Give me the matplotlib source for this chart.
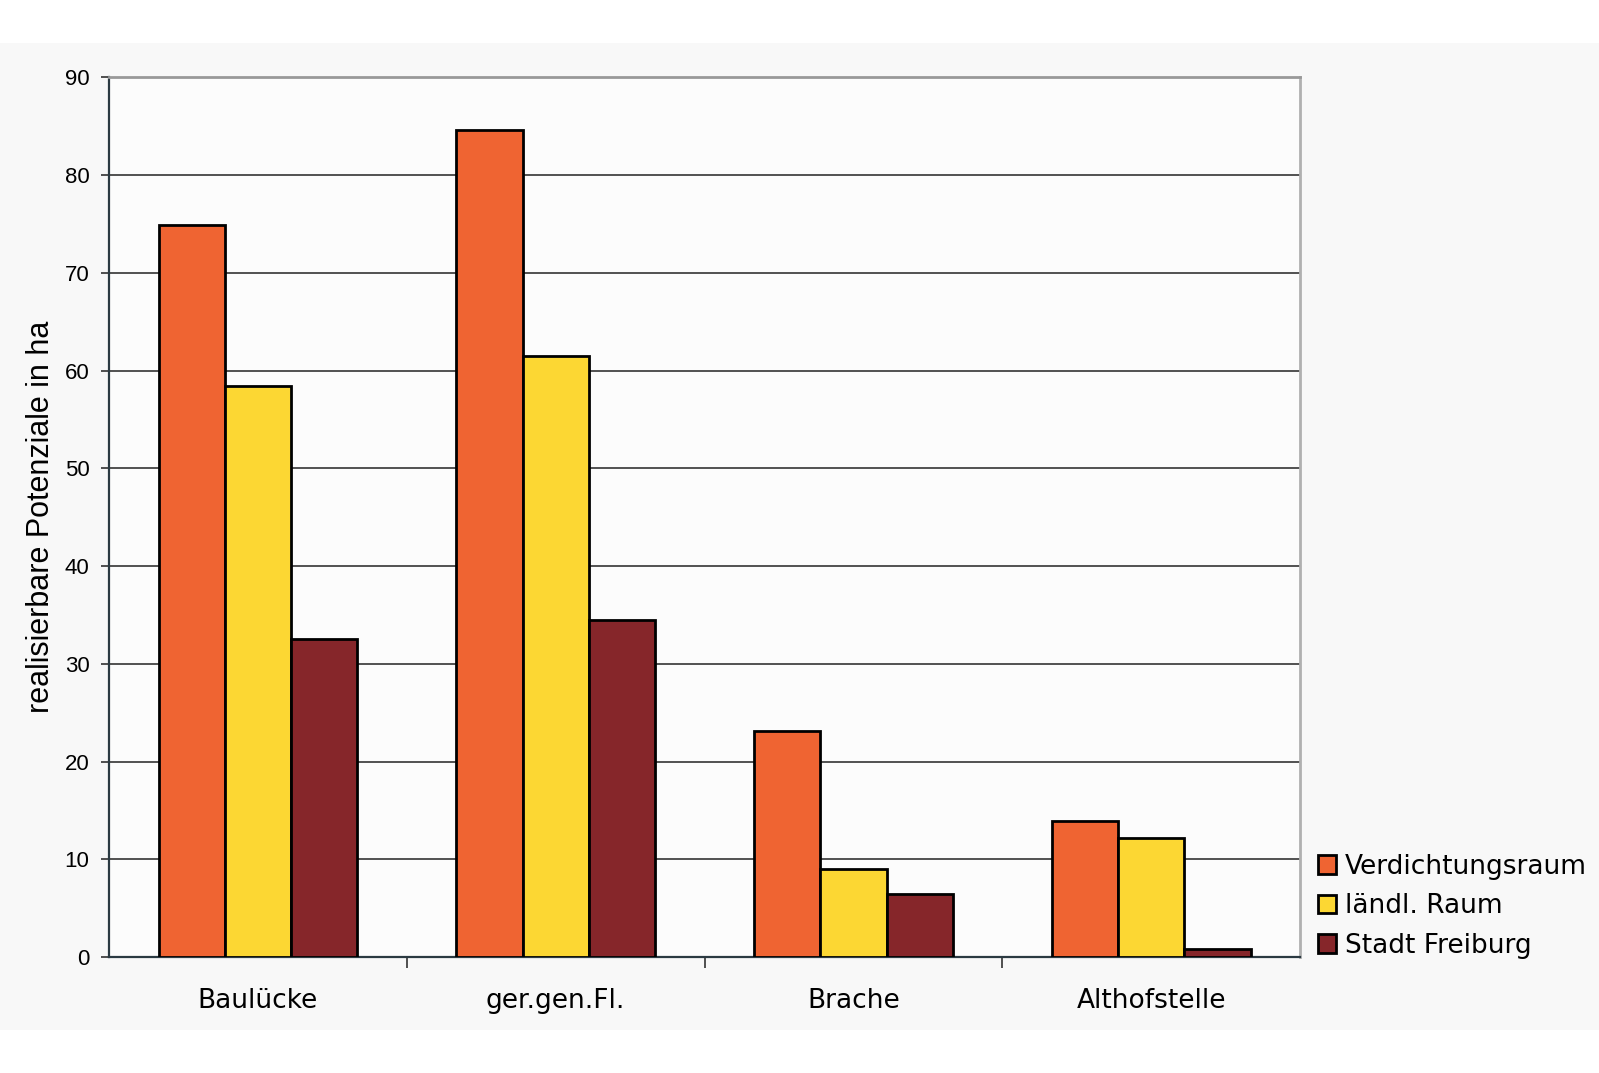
import numpy as np
import matplotlib.pyplot as plt
from matplotlib.patches import Rectangle

# data
kategorien = ["Baulücke", "ger.gen.Fl.", "Brache", "Althofstelle"]
serien = ["Verdichtungsraum", "ländl. Raum", "Stadt Freiburg"]
verdichtungsraum = [74.9, 84.6, 23.1, 13.9]
laendl_raum = [58.4, 61.5, 9.0, 12.2]
stadt_freiburg = [32.5, 34.5, 6.4, 0.8]
yticks = [0, 10, 20, 30, 40, 50, 60, 70, 80, 90]

farben = ["#EF6432", "#FCD733", "#86262A"]

fig = plt.figure(figsize=(15.99, 10.73), dpi=100, facecolor="white")
# light grey panel behind the chart
fig.patches.append(Rectangle((0, 0.040), 1, 0.920, transform=fig.transFigure,
                             facecolor="#f8f8f8", edgecolor="none", zorder=-10))

ax = fig.add_axes([0.0682, 0.1081, 0.7448, 0.8197])
ax.set_facecolor("#fcfcfc")

x = np.arange(len(kategorien))
breite = 0.2226
for i, (werte, name) in enumerate(zip([verdichtungsraum, laendl_raum, stadt_freiburg], serien)):
    ax.bar(x + (i - 1) * breite, werte, breite, color=farben[i], edgecolor="black",
           linewidth=2, label=name, zorder=3)

ax.set_xlim(-0.5, len(kategorien) - 0.5)
ax.set_ylim(0, 90)
ax.set_yticks(yticks)
ax.set_yticklabels([str(v) for v in yticks], fontsize=16, family="Liberation Sans")
ax.yaxis.grid(True, color="#444444", linewidth=1.3, zorder=1)
ax.set_axisbelow(True)

# category labels centred, ticks at group boundaries
ax.set_xticks(x)
ax.set_xticklabels(kategorien, fontsize=19, family="DejaVu Sans")
ax.tick_params(axis="x", which="major", length=0, pad=22)
ax.set_xticks(np.arange(0.5, len(kategorien) - 0.5, 1.0), minor=True)
ax.tick_params(axis="x", which="minor", length=8, width=1.2, color="#333333", direction="out")
ax.tick_params(axis="y", length=6, width=1.2, color="#333333", pad=8)

ax.set_ylabel("realisierbare Potenziale in ha", fontsize=22, family="Liberation Sans", labelpad=6)

for s in ["left", "bottom"]:
    ax.spines[s].set_color("#2b3a42")
    ax.spines[s].set_linewidth(1.6)
ax.spines["right"].set_color("#b0b0b0")
ax.spines["right"].set_linewidth(2)
ax.spines["top"].set_color("#999999")
ax.spines["top"].set_linewidth(2)

leg = ax.legend(loc="lower left", bbox_to_anchor=(1.0, -0.023), frameon=False,
                prop={"family": "DejaVu Sans", "size": 19}, handlelength=0.65,
                handleheight=0.7, handletextpad=0.35, labelspacing=0.51, borderpad=0.2)

fig.savefig("out.png", dpi=100, facecolor=fig.get_facecolor())
